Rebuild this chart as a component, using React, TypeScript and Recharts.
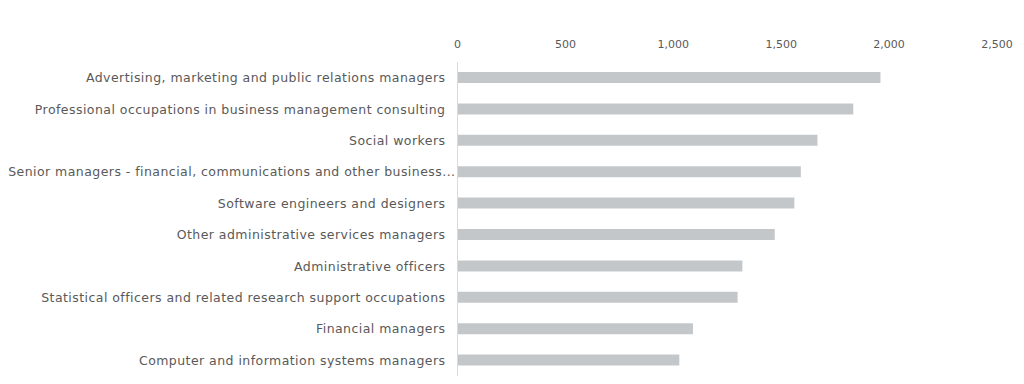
import { Bar, BarChart, XAxis, YAxis } from "recharts";

const occupations = [
  "Advertising, marketing and public relations managers",
  "Professional occupations in business management consulting",
  "Social workers",
  "Senior managers - financial, communications and other business...",
  "Software engineers and designers",
  "Other administrative services managers",
  "Administrative officers",
  "Statistical officers and related research support occupations",
  "Financial managers",
  "Computer and information systems managers",
];

const postings = [1960, 1834, 1668, 1591, 1561, 1470, 1320, 1298, 1091, 1028];

const axisTicks = [0, 500, 1000, 1500, 2000, 2500];

const TEXT = "#595959";
const BAR = "#c4c7ca";
const FONT = "'DejaVu Sans', Verdana, sans-serif";

const data = occupations.map((name, i) => ({ name, value: postings[i] }));

// truncated labels run right up to the axis line, like in the source
function CategoryTick({ x, y, payload }: { x?: number; y?: number; payload?: { value: string } }) {
  if (x == null || y == null || !payload) return null;
  const label = payload.value;
  const shift = label.endsWith("...") ? 10 : 0;
  return (
    <text
      x={x + shift}
      y={y}
      dy="0.355em"
      textAnchor="end"
      fill={TEXT}
      fontSize={12.5}
      fontFamily={FONT}
      letterSpacing={0.45}
    >
      {label}
    </text>
  );
}

export default function App() {
  return (
    <div style={{ position: "absolute", left: 0, top: 0, width: 1024, height: 384, background: "#fff" }}>
      <BarChart
        width={1024}
        height={384}
        data={data}
        layout="vertical"
        margin={{ top: 32, right: 27, bottom: 8, left: 0 }}
        barSize={11}
      >
        <XAxis
          type="number"
          orientation="top"
          domain={[0, 2500]}
          ticks={axisTicks}
          height={30}
          axisLine={false}
          tickLine={false}
          tickMargin={8}
          tick={{ fill: TEXT, fontSize: 11, fontFamily: FONT }}
          tickFormatter={(v: number) => v.toLocaleString("en-US")}
        />
        <YAxis
          type="category"
          dataKey="name"
          width={457.5}
          interval={0}
          tickLine={false}
          tickMargin={6}
          axisLine={{ stroke: "#d6dbe0" }}
          tick={<CategoryTick />}
        />
        <Bar dataKey="value" fill={BAR} isAnimationActive={false} />
      </BarChart>
    </div>
  );
}
